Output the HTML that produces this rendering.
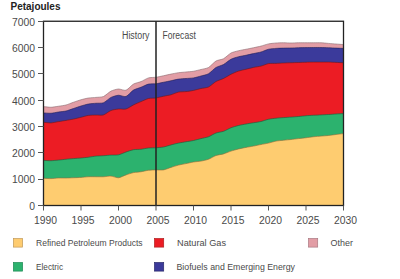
<!DOCTYPE html>
<html><head><meta charset="utf-8"><style>
html,body{margin:0;padding:0;background:#fff;}
body{width:400px;height:279px;overflow:hidden;position:relative;font-family:"Liberation Sans",sans-serif;}
svg{position:absolute;left:0;top:0;}
.ax{font-size:10px;fill:#4a4a4a;font-family:"Liberation Sans",sans-serif;}
.lg{font-size:9.9px;fill:#4a4a4a;font-family:"Liberation Sans",sans-serif;}
.t{font-size:10px;font-weight:bold;fill:#222;font-family:"Liberation Sans",sans-serif;}
</style></head><body>
<svg width="400" height="279" viewBox="0 0 400 279">
<path d="M43.50,106.60 C44.38,106.68 49.25,107.29 51.00,107.25 C52.75,107.21 56.75,106.51 58.50,106.25 C60.25,105.99 64.25,105.47 66.00,105.00 C67.75,104.53 71.75,102.86 73.50,102.25 C75.25,101.64 79.25,100.25 81.00,99.75 C82.75,99.25 86.75,98.27 88.50,98.00 C90.25,97.73 94.25,97.58 96.00,97.40 C97.75,97.23 101.75,97.23 103.50,96.50 C105.25,95.77 109.25,91.97 111.00,91.10 C112.75,90.22 116.75,89.10 118.50,89.00 C120.25,88.90 124.25,90.82 126.00,90.25 C127.75,89.68 131.75,85.11 133.50,84.10 C135.25,83.09 139.25,82.32 141.00,81.60 C142.75,80.88 146.75,78.41 148.50,77.90 C150.25,77.39 154.25,77.50 156.00,77.25 C157.75,77.00 161.75,76.12 163.50,75.75 C165.25,75.38 169.25,74.46 171.00,74.10 C172.75,73.74 176.75,72.95 178.50,72.70 C180.25,72.45 184.25,72.17 186.00,72.00 C187.75,71.83 191.75,71.54 193.50,71.25 C195.25,70.96 199.25,69.94 201.00,69.50 C202.75,69.06 206.75,68.49 208.50,67.50 C210.25,66.51 214.25,62.02 216.00,61.00 C217.75,59.98 221.75,59.68 223.50,58.75 C225.25,57.82 229.25,53.93 231.00,53.00 C232.75,52.07 236.75,51.19 238.50,50.75 C240.25,50.31 244.25,49.60 246.00,49.25 C247.75,48.90 251.75,48.12 253.50,47.75 C255.25,47.38 259.25,46.55 261.00,46.10 C262.75,45.65 266.75,44.26 268.50,43.90 C270.25,43.54 274.25,43.13 276.00,43.00 C277.75,42.87 281.75,42.75 283.50,42.75 C285.25,42.75 289.25,43.00 291.00,43.00 C292.75,43.00 296.75,42.78 298.50,42.75 C300.25,42.72 304.25,42.75 306.00,42.75 C307.75,42.75 311.75,42.75 313.50,42.75 C315.25,42.75 319.25,42.67 321.00,42.75 C322.75,42.83 326.75,43.25 328.50,43.40 C330.25,43.55 334.25,43.86 336.00,44.00 C337.75,44.14 342.62,44.53 343.50,44.60 L343.50,205.5 L43.50,205.5 Z" fill="#E29DA5" stroke="#8a6a6e" stroke-width="0.6" stroke-linejoin="round"/><path d="M43.50,112.90 C44.38,112.94 49.25,113.36 51.00,113.25 C52.75,113.14 56.75,112.26 58.50,112.00 C60.25,111.74 64.25,111.41 66.00,111.00 C67.75,110.59 71.75,109.08 73.50,108.50 C75.25,107.92 79.25,106.53 81.00,106.00 C82.75,105.47 86.75,104.32 88.50,104.00 C90.25,103.68 94.25,103.40 96.00,103.25 C97.75,103.10 101.75,103.43 103.50,102.75 C105.25,102.07 109.25,98.28 111.00,97.40 C112.75,96.53 116.75,95.36 118.50,95.25 C120.25,95.14 124.25,97.10 126.00,96.50 C127.75,95.90 131.75,91.18 133.50,90.10 C135.25,89.02 139.25,87.95 141.00,87.25 C142.75,86.55 146.75,84.51 148.50,84.10 C150.25,83.69 154.25,83.97 156.00,83.75 C157.75,83.53 161.75,82.60 163.50,82.25 C165.25,81.90 169.25,81.12 171.00,80.75 C172.75,80.38 176.75,79.36 178.50,79.10 C180.25,78.84 184.25,78.64 186.00,78.50 C187.75,78.36 191.75,78.19 193.50,77.90 C195.25,77.61 199.25,76.48 201.00,76.00 C202.75,75.52 206.75,74.74 208.50,73.75 C210.25,72.76 214.25,68.58 216.00,67.50 C217.75,66.42 221.75,65.46 223.50,64.50 C225.25,63.54 229.25,60.15 231.00,59.25 C232.75,58.35 236.75,57.22 238.50,56.75 C240.25,56.28 244.25,55.62 246.00,55.25 C247.75,54.88 251.75,53.98 253.50,53.60 C255.25,53.22 259.25,52.51 261.00,52.00 C262.75,51.49 266.75,49.67 268.50,49.25 C270.25,48.83 274.25,48.53 276.00,48.40 C277.75,48.27 281.75,48.15 283.50,48.10 C285.25,48.05 289.25,48.04 291.00,48.00 C292.75,47.96 296.75,47.80 298.50,47.75 C300.25,47.70 304.25,47.63 306.00,47.60 C307.75,47.57 311.75,47.51 313.50,47.50 C315.25,47.49 319.25,47.47 321.00,47.50 C322.75,47.53 326.75,47.68 328.50,47.75 C330.25,47.82 334.25,48.02 336.00,48.10 C337.75,48.18 342.62,48.37 343.50,48.40 L343.50,205.5 L43.50,205.5 Z" fill="#3B3A9B" stroke="#1f1f55" stroke-width="0.6" stroke-linejoin="round"/><path d="M43.50,122.25 C44.38,122.33 49.25,122.98 51.00,122.90 C52.75,122.82 56.75,121.89 58.50,121.60 C60.25,121.31 64.25,120.69 66.00,120.40 C67.75,120.11 71.75,119.47 73.50,119.10 C75.25,118.73 79.25,117.68 81.00,117.25 C82.75,116.82 86.75,115.65 88.50,115.40 C90.25,115.15 94.25,115.16 96.00,115.10 C97.75,115.04 101.75,115.44 103.50,114.90 C105.25,114.36 109.25,111.19 111.00,110.50 C112.75,109.81 116.75,109.17 118.50,109.00 C120.25,108.83 124.25,109.48 126.00,109.00 C127.75,108.52 131.75,105.76 133.50,104.90 C135.25,104.04 139.25,102.35 141.00,101.60 C142.75,100.85 146.75,98.93 148.50,98.50 C150.25,98.07 154.25,98.16 156.00,97.90 C157.75,97.64 161.75,96.62 163.50,96.25 C165.25,95.88 169.25,95.23 171.00,94.75 C172.75,94.27 176.75,92.47 178.50,92.10 C180.25,91.73 184.25,91.80 186.00,91.60 C187.75,91.40 191.75,90.76 193.50,90.40 C195.25,90.04 199.25,88.90 201.00,88.50 C202.75,88.10 206.75,87.82 208.50,87.00 C210.25,86.18 214.25,82.49 216.00,81.50 C217.75,80.51 221.75,79.35 223.50,78.50 C225.25,77.65 229.25,75.11 231.00,74.25 C232.75,73.39 236.75,71.68 238.50,71.10 C240.25,70.52 244.25,69.68 246.00,69.25 C247.75,68.82 251.75,67.77 253.50,67.40 C255.25,67.03 259.25,66.54 261.00,66.10 C262.75,65.66 266.75,63.91 268.50,63.60 C270.25,63.29 274.25,63.47 276.00,63.40 C277.75,63.33 281.75,63.08 283.50,63.00 C285.25,62.92 289.25,62.81 291.00,62.75 C292.75,62.69 296.75,62.56 298.50,62.50 C300.25,62.44 304.25,62.30 306.00,62.25 C307.75,62.20 311.75,62.12 313.50,62.10 C315.25,62.08 319.25,62.10 321.00,62.10 C322.75,62.10 326.75,62.07 328.50,62.10 C330.25,62.13 334.25,62.32 336.00,62.40 C337.75,62.48 342.62,62.71 343.50,62.75 L343.50,205.5 L43.50,205.5 Z" fill="#EC1C24" stroke="#6a1a1a" stroke-width="0.6" stroke-linejoin="round"/><path d="M43.50,160.40 C44.38,160.44 49.25,160.73 51.00,160.70 C52.75,160.66 56.75,160.27 58.50,160.10 C60.25,159.93 64.25,159.43 66.00,159.25 C67.75,159.07 71.75,158.75 73.50,158.60 C75.25,158.45 79.25,158.16 81.00,158.00 C82.75,157.84 86.75,157.42 88.50,157.20 C90.25,156.98 94.25,156.28 96.00,156.10 C97.75,155.92 101.75,155.82 103.50,155.70 C105.25,155.58 109.25,155.20 111.00,155.10 C112.75,155.00 116.75,155.21 118.50,154.85 C120.25,154.49 124.25,152.60 126.00,152.00 C127.75,151.40 131.75,150.02 133.50,149.70 C135.25,149.38 139.25,149.45 141.00,149.25 C142.75,149.05 146.75,148.18 148.50,148.00 C150.25,147.82 154.25,147.87 156.00,147.75 C157.75,147.63 161.75,147.33 163.50,147.00 C165.25,146.67 169.25,145.36 171.00,144.90 C172.75,144.44 176.75,143.47 178.50,143.10 C180.25,142.73 184.25,142.05 186.00,141.75 C187.75,141.45 191.75,140.87 193.50,140.50 C195.25,140.13 199.25,139.04 201.00,138.60 C202.75,138.16 206.75,137.40 208.50,136.75 C210.25,136.10 214.25,133.64 216.00,133.00 C217.75,132.36 221.75,131.91 223.50,131.30 C225.25,130.69 229.25,128.43 231.00,127.75 C232.75,127.07 236.75,125.94 238.50,125.50 C240.25,125.06 244.25,124.32 246.00,124.00 C247.75,123.68 251.75,123.04 253.50,122.75 C255.25,122.46 259.25,121.91 261.00,121.50 C262.75,121.09 266.75,119.63 268.50,119.25 C270.25,118.87 274.25,118.44 276.00,118.25 C277.75,118.06 281.75,117.73 283.50,117.60 C285.25,117.47 289.25,117.23 291.00,117.10 C292.75,116.97 296.75,116.66 298.50,116.50 C300.25,116.34 304.25,115.90 306.00,115.75 C307.75,115.60 311.75,115.35 313.50,115.25 C315.25,115.15 319.25,114.99 321.00,114.90 C322.75,114.81 326.75,114.61 328.50,114.50 C330.25,114.39 334.25,114.11 336.00,114.00 C337.75,113.89 342.62,113.65 343.50,113.60 L343.50,205.5 L43.50,205.5 Z" fill="#2CB26E" stroke="#1a5a3a" stroke-width="0.6" stroke-linejoin="round"/><path d="M43.50,178.25 C44.38,178.29 49.25,178.63 51.00,178.60 C52.75,178.57 56.75,178.07 58.50,178.00 C60.25,177.93 64.25,178.03 66.00,178.00 C67.75,177.97 71.75,177.82 73.50,177.75 C75.25,177.68 79.25,177.52 81.00,177.40 C82.75,177.28 86.75,176.83 88.50,176.75 C90.25,176.67 94.25,176.75 96.00,176.75 C97.75,176.75 101.75,176.83 103.50,176.75 C105.25,176.67 109.25,175.98 111.00,176.10 C112.75,176.22 116.75,177.89 118.50,177.75 C120.25,177.61 124.25,175.50 126.00,174.90 C127.75,174.30 131.75,172.97 133.50,172.60 C135.25,172.23 139.25,172.02 141.00,171.75 C142.75,171.48 146.75,170.47 148.50,170.25 C150.25,170.03 154.25,169.94 156.00,169.90 C157.75,169.86 161.75,170.19 163.50,169.90 C165.25,169.61 169.25,167.96 171.00,167.40 C172.75,166.84 176.75,165.54 178.50,165.10 C180.25,164.66 184.25,163.96 186.00,163.60 C187.75,163.24 191.75,162.29 193.50,162.00 C195.25,161.71 199.25,161.42 201.00,161.10 C202.75,160.78 206.75,159.90 208.50,159.25 C210.25,158.60 214.25,156.12 216.00,155.50 C217.75,154.88 221.75,154.41 223.50,153.90 C225.25,153.39 229.25,151.67 231.00,151.10 C232.75,150.53 236.75,149.43 238.50,149.00 C240.25,148.57 244.25,147.74 246.00,147.40 C247.75,147.06 251.75,146.44 253.50,146.10 C255.25,145.76 259.25,144.85 261.00,144.50 C262.75,144.15 266.75,143.50 268.50,143.10 C270.25,142.70 274.25,141.43 276.00,141.10 C277.75,140.77 281.75,140.44 283.50,140.25 C285.25,140.06 289.25,139.69 291.00,139.50 C292.75,139.31 296.75,138.80 298.50,138.60 C300.25,138.40 304.25,137.97 306.00,137.75 C307.75,137.53 311.75,136.94 313.50,136.75 C315.25,136.56 319.25,136.25 321.00,136.10 C322.75,135.95 326.75,135.69 328.50,135.50 C330.25,135.31 334.25,134.72 336.00,134.50 C337.75,134.28 342.62,133.70 343.50,133.60 L343.50,205.5 L43.50,205.5 Z" fill="#FECC70" stroke="#8a6a3a" stroke-width="0.6" stroke-linejoin="round"/>
<rect x="43.5" y="21.25" width="300" height="184.25" fill="none" stroke="#222" stroke-width="1.3"/>
<line x1="156" y1="21.25" x2="156" y2="205.5" stroke="#222" stroke-width="1.5"/>
<line x1="38" y1="205.50" x2="43.5" y2="205.50" stroke="#555" stroke-width="1"/><text x="29.25" y="209.80" class="ax" textLength="5.75" lengthAdjust="spacingAndGlyphs">0</text><line x1="38" y1="179.50" x2="43.5" y2="179.50" stroke="#555" stroke-width="1"/><text x="12.00" y="183.48" class="ax" textLength="23.00" lengthAdjust="spacingAndGlyphs">1000</text><line x1="38" y1="152.50" x2="43.5" y2="152.50" stroke="#555" stroke-width="1"/><text x="12.00" y="157.16" class="ax" textLength="23.00" lengthAdjust="spacingAndGlyphs">2000</text><line x1="38" y1="126.50" x2="43.5" y2="126.50" stroke="#555" stroke-width="1"/><text x="12.00" y="130.84" class="ax" textLength="23.00" lengthAdjust="spacingAndGlyphs">3000</text><line x1="38" y1="100.50" x2="43.5" y2="100.50" stroke="#555" stroke-width="1"/><text x="12.00" y="104.51" class="ax" textLength="23.00" lengthAdjust="spacingAndGlyphs">4000</text><line x1="38" y1="73.50" x2="43.5" y2="73.50" stroke="#555" stroke-width="1"/><text x="12.00" y="78.19" class="ax" textLength="23.00" lengthAdjust="spacingAndGlyphs">5000</text><line x1="38" y1="47.50" x2="43.5" y2="47.50" stroke="#555" stroke-width="1"/><text x="12.00" y="51.87" class="ax" textLength="23.00" lengthAdjust="spacingAndGlyphs">6000</text><line x1="38" y1="21.50" x2="43.5" y2="21.50" stroke="#555" stroke-width="1"/><text x="12.00" y="25.55" class="ax" textLength="23.00" lengthAdjust="spacingAndGlyphs">7000</text><line x1="43.50" y1="205.5" x2="43.50" y2="210.5" stroke="#555" stroke-width="1"/><text x="34.00" y="224" class="ax" textLength="23" lengthAdjust="spacingAndGlyphs">1990</text><line x1="81.00" y1="205.5" x2="81.00" y2="210.5" stroke="#555" stroke-width="1"/><text x="71.50" y="224" class="ax" textLength="23" lengthAdjust="spacingAndGlyphs">1995</text><line x1="118.50" y1="205.5" x2="118.50" y2="210.5" stroke="#555" stroke-width="1"/><text x="109.00" y="224" class="ax" textLength="23" lengthAdjust="spacingAndGlyphs">2000</text><line x1="156.00" y1="205.5" x2="156.00" y2="210.5" stroke="#555" stroke-width="1"/><text x="146.50" y="224" class="ax" textLength="23" lengthAdjust="spacingAndGlyphs">2005</text><line x1="193.50" y1="205.5" x2="193.50" y2="210.5" stroke="#555" stroke-width="1"/><text x="184.00" y="224" class="ax" textLength="23" lengthAdjust="spacingAndGlyphs">2010</text><line x1="231.00" y1="205.5" x2="231.00" y2="210.5" stroke="#555" stroke-width="1"/><text x="221.50" y="224" class="ax" textLength="23" lengthAdjust="spacingAndGlyphs">2015</text><line x1="268.50" y1="205.5" x2="268.50" y2="210.5" stroke="#555" stroke-width="1"/><text x="259.00" y="224" class="ax" textLength="23" lengthAdjust="spacingAndGlyphs">2020</text><line x1="306.00" y1="205.5" x2="306.00" y2="210.5" stroke="#555" stroke-width="1"/><text x="296.50" y="224" class="ax" textLength="23" lengthAdjust="spacingAndGlyphs">2025</text><line x1="343.50" y1="205.5" x2="343.50" y2="210.5" stroke="#555" stroke-width="1"/><text x="334.00" y="224" class="ax" textLength="23" lengthAdjust="spacingAndGlyphs">2030</text>
<text x="10.5" y="9.6" class="t" textLength="50" lengthAdjust="spacingAndGlyphs">Petajoules</text>
<text x="122" y="38.7" class="ax" textLength="27.5" lengthAdjust="spacingAndGlyphs">History</text>
<text x="162.5" y="38.7" class="ax" textLength="33.3" lengthAdjust="spacingAndGlyphs">Forecast</text>
<rect x="13.4" y="238.5" width="9.2" height="8.6" fill="#FECC70" stroke="#c09a5a" stroke-width="0.7"/>
<text x="36" y="246.2" class="lg" textLength="106.6" lengthAdjust="spacingAndGlyphs">Refined Petroleum Products</text>
<rect x="154.5" y="238.5" width="9.2" height="8.6" fill="#EC1C24" stroke="#b02020" stroke-width="0.7"/>
<text x="177" y="246.2" class="lg" textLength="49" lengthAdjust="spacingAndGlyphs">Natural Gas</text>
<rect x="308.5" y="238.5" width="9.2" height="8.6" fill="#E29DA5" stroke="#a87880" stroke-width="0.7"/>
<text x="330.6" y="246.2" class="lg" textLength="22.4" lengthAdjust="spacingAndGlyphs">Other</text>
<rect x="13.4" y="262.5" width="9.2" height="8.6" fill="#2CB26E" stroke="#1e8a55" stroke-width="0.7"/>
<text x="36" y="270.2" class="lg" textLength="27" lengthAdjust="spacingAndGlyphs">Electric</text>
<rect x="154.5" y="262.5" width="9.2" height="8.6" fill="#3B3A9B" stroke="#2a2a6a" stroke-width="0.7"/>
<text x="176.5" y="270.2" class="lg" textLength="118.5" lengthAdjust="spacingAndGlyphs">Biofuels and Emerging Energy</text>
</svg>
</body></html>
